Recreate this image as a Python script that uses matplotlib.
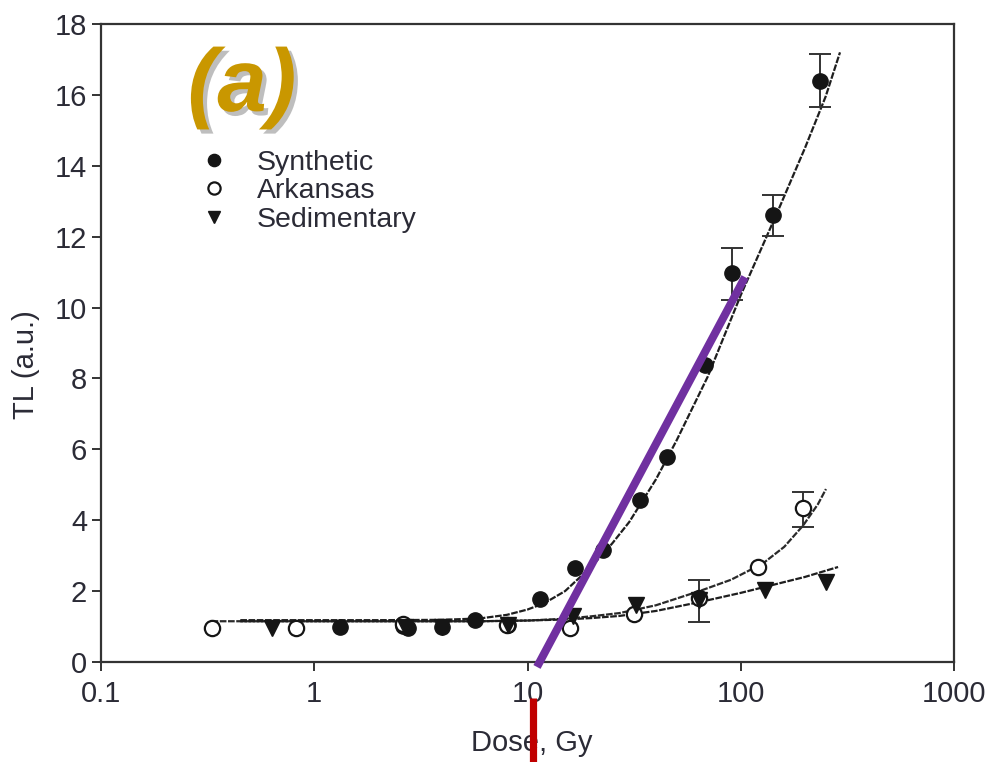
import matplotlib
matplotlib.use("Agg")
import matplotlib.pyplot as plt
import matplotlib.transforms as mtransforms
import matplotlib.patheffects as pe

plt.rcParams['font.family'] = ['Liberation Sans', 'DejaVu Sans']

# ---- data ----
syn_x = [1.32, 2.62, 2.75, 3.97, 5.68, 8.1, 11.4, 16.7, 22.6, 33.7, 45.1, 67.9, 91.0, 141.6, 235.6]
syn_y = [0.99, 1.02, 0.97, 0.99, 1.19, 1.04, 1.78, 2.65, 3.16, 4.57, 5.78, 8.38, 10.98, 12.61, 16.39]
syn_err_x = [91.0, 141.6, 235.6]
syn_err_y = [10.98, 12.61, 16.39]
syn_err_lo = [0.77, 0.59, 0.73]
syn_err_hi = [0.70, 0.57, 0.77]

ark_x = [0.331, 0.82, 2.6, 8.0, 15.8, 31.6, 64.0, 120.5, 196.0]
ark_y = [0.96, 0.96, 1.08, 1.05, 0.96, 1.35, 1.80, 2.68, 4.35]
ark_err_x = [64.0, 196.0]
ark_err_y = [1.80, 4.35]
ark_err_lo = [0.67, 0.54]
ark_err_hi = [0.51, 0.45]

sed_x = [0.634, 2.67, 3.97, 8.1, 16.4, 32.3, 64.0, 130.0, 251.0]
sed_y = [0.96, 0.99, 0.99, 1.04, 1.30, 1.60, 1.75, 2.03, 2.26]

# fitted curves
syn_fit_x = [0.45, 1, 2, 4, 6, 8, 10, 12, 15, 20, 25, 30, 40, 50, 70, 100, 150, 200, 250, 292]
syn_fit_y = [1.18, 1.18, 1.18, 1.19, 1.23, 1.33, 1.48, 1.66, 2.0, 2.7, 3.35, 3.95, 5.15, 6.25, 8.05, 10.35, 12.75, 14.5, 15.95, 17.2]
ark_fit_x = [0.33, 1, 3, 6, 10, 15, 20, 27, 40, 64, 90, 127, 160, 196, 230, 251]
ark_fit_y = [1.15, 1.15, 1.15, 1.15, 1.17, 1.22, 1.29, 1.38, 1.6, 2.0, 2.32, 2.78, 3.25, 3.85, 4.45, 4.88]
sed_fit_x = [0.45, 1, 3, 6, 10, 15, 20, 27, 40, 64, 100, 134, 200, 286]
sed_fit_y = [1.15, 1.15, 1.15, 1.15, 1.17, 1.2, 1.24, 1.3, 1.44, 1.69, 1.95, 2.14, 2.4, 2.68]

# overlay annotations
purple_x = [11.08, 104.7]
purple_y = [-0.14, 10.86]
red_x = 10.6

x_ticks = [0.1, 1, 10, 100, 1000]
x_ticklabels = ['0.1', '1', '10', '100', '1000']
y_ticks = [0, 2, 4, 6, 8, 10, 12, 14, 16, 18]

txt = '#2b2b36'
ink = '#151515'

fig = plt.figure(figsize=(9.9, 7.62), dpi=100)
ax = fig.add_axes([101/990, 1-662/762, 853/990, 638/762])

ax.set_xscale('log')
ax.set_xlim(0.1, 1000)
ax.set_ylim(0, 18)

dash = (0, (3.0, 0.7))
ax.plot(ark_fit_x, ark_fit_y, color='#2a2a2a', lw=1.6, ls=dash, zorder=2)
ax.plot(sed_fit_x, sed_fit_y, color='#1e1e1e', lw=1.6, ls=dash, zorder=2)
ax.plot(syn_fit_x, syn_fit_y, color='#1e1e1e', lw=1.6, ls=dash, zorder=2)

ax.errorbar(syn_err_x, syn_err_y, yerr=[syn_err_lo, syn_err_hi], fmt='none',
            ecolor='#333333', elinewidth=1.4, capsize=8, capthick=1.4, zorder=3)
ax.errorbar(ark_err_x, ark_err_y, yerr=[ark_err_lo, ark_err_hi], fmt='none',
            ecolor='#333333', elinewidth=1.4, capsize=8, capthick=1.4, zorder=3)

ms = 11
h_syn, = ax.plot(syn_x, syn_y, 'o', color=ink, ms=ms, mec=ink, ls='none', zorder=4, label='Synthetic')
h_ark, = ax.plot(ark_x, ark_y, 'o', mfc='white', mec=ink, mew=1.6, ms=ms, ls='none', zorder=4, label='Arkansas')
h_sed, = ax.plot(sed_x, sed_y, 'v', color=ink, ms=ms, ls='none', zorder=4, label='Sedimentary')

# purple overlay line
ax.plot(purple_x, purple_y, color='#7030A0', lw=5.8, solid_capstyle='butt', clip_on=False, zorder=6)
# red vertical marker below the axis
trans = mtransforms.blended_transform_factory(ax.transData, ax.transAxes)
ax.plot([red_x, red_x], [-(698-662)/638, -(762-662)/638], color='#C00000', lw=5.2,
        solid_capstyle='butt', transform=trans, clip_on=False, zorder=6)

ax.set_xticks(x_ticks)
ax.set_xticklabels(x_ticklabels)
ax.xaxis.set_minor_locator(matplotlib.ticker.NullLocator())
ax.set_yticks(y_ticks)
ax.tick_params(axis='both', direction='out', length=6.5, width=1.4, colors='#333333',
               labelcolor=txt, labelsize=21)
ax.tick_params(axis='x', pad=6.5)
ax.tick_params(axis='y', pad=3.5)
for s in ax.spines.values():
    s.set_linewidth(1.6)
    s.set_color('#333333')

ax.set_xlabel('Dose, Gy', fontsize=21, color=txt)
ax.set_ylabel('TL (a.u.)', fontsize=21, color=txt)
ax.xaxis.set_label_coords(0.505, -0.105)
ax.yaxis.set_label_coords(-0.071, 0.466)

leg = ax.legend(handles=[h_syn, h_ark, h_sed], loc='upper left',
                bbox_to_anchor=(0.116, 0.803), frameon=False, fontsize=20.5,
                handlelength=1.0, handletextpad=1.0, labelspacing=0.09,
                borderpad=0, borderaxespad=0, markerscale=0.8)
for t in leg.get_texts():
    t.set_color(txt)

# "(a)" panel label with a soft drop shadow, drawn as a path
fig.text(242/990, 1-88/762, '(a)', fontsize=64, fontweight='bold', fontstyle='italic',
         color='#C99700', ha='center', va='center',
         path_effects=[pe.SimplePatchShadow(offset=(3, -3), shadow_rgbFace='#8a8a8a', alpha=0.55),
                       pe.Normal()])

fig.savefig('out.png', dpi=100)
